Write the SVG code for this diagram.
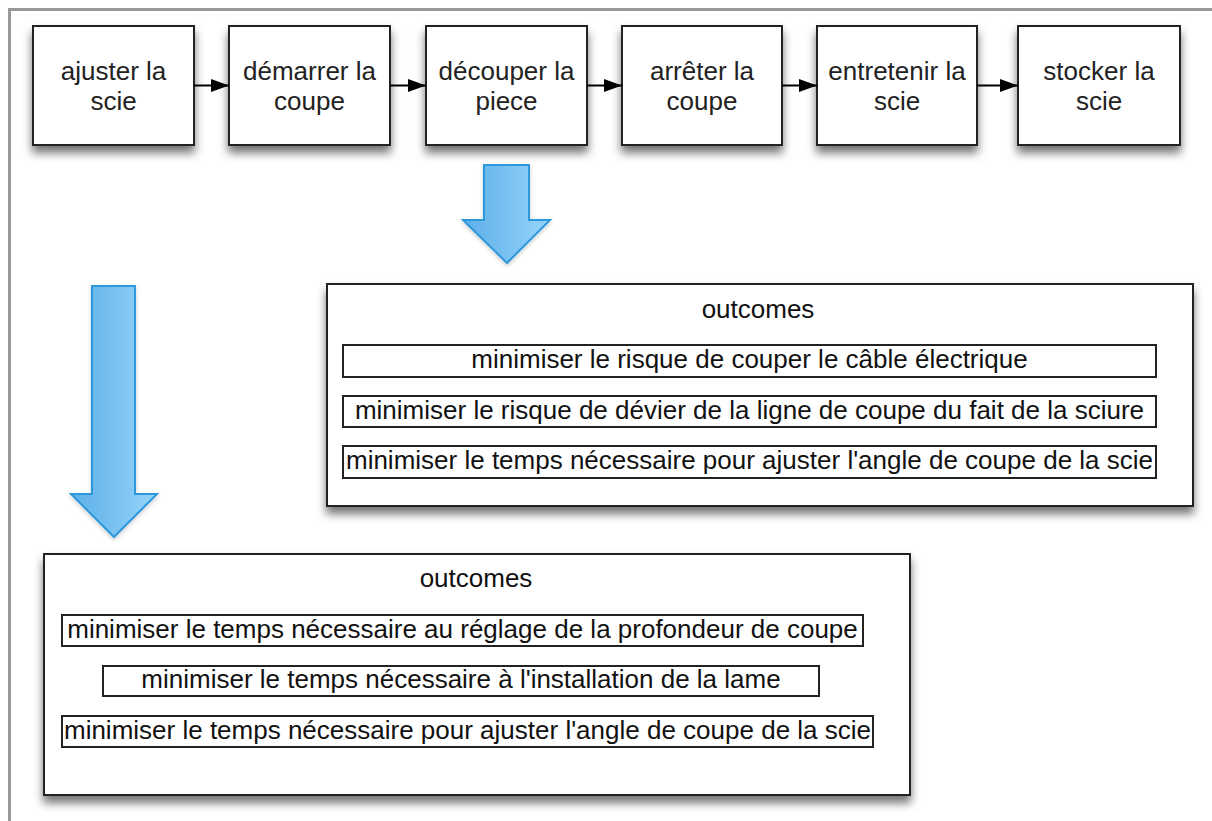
<svg xmlns="http://www.w3.org/2000/svg" width="1212" height="821" viewBox="0 0 1212 821">
<defs>
<filter id="sh" x="-10%" y="-10%" width="130%" height="140%">
<feDropShadow dx="0" dy="7" stdDeviation="5" flood-color="#000" flood-opacity="0.55"/>
</filter>
<filter id="sh2" x="-20%" y="-20%" width="140%" height="140%">
<feDropShadow dx="0" dy="2" stdDeviation="2" flood-color="#000" flood-opacity="0.2"/>
</filter>
<linearGradient id="blue" x1="0" y1="0" x2="1" y2="0">
<stop offset="0" stop-color="#5cafe9"/>
<stop offset="1" stop-color="#96d4fa"/>
</linearGradient>
<marker id="ah" viewBox="0 0 18 13" refX="18" refY="6.5" markerWidth="18" markerHeight="13" markerUnits="userSpaceOnUse" orient="auto">
<path d="M0,0 L18,6.5 L0,13 Z" fill="#000"/>
</marker>
<style>
.box{fill:#fff;stroke:#222;stroke-width:2;filter:url(#sh)}
.row{fill:#fff;stroke:#222;stroke-width:2}
.t{font-family:"Liberation Sans",Arial,sans-serif;font-size:26px;fill:#222;text-anchor:middle}
.o{font-family:"Liberation Sans",Arial,sans-serif;font-size:26px;fill:#111;text-anchor:middle}
.con{stroke:#000;stroke-width:2;fill:none;marker-end:url(#ah)}
.barrow{fill:url(#blue);stroke:#2f98dc;stroke-width:2;stroke-linejoin:miter;filter:url(#sh2)}
</style>
</defs>
<rect width="1212" height="821" fill="#fff"/>
<path d="M9.5,821 V9.5 H1212" fill="none" stroke="#999" stroke-width="3"/>

<g id="n1"><rect class="box" x="33" y="26" width="161" height="119"/><text class="t" x="113.5" y="80">ajuster la</text><text class="t" x="113.5" y="110">scie</text></g>
<g id="n2"><rect class="box" x="229" y="26" width="161" height="119"/><text class="t" x="309.5" y="80">démarrer la</text><text class="t" x="309.5" y="110">coupe</text></g>
<g id="n3"><rect class="box" x="426" y="26" width="161" height="119"/><text class="t" x="506.5" y="80">découper la</text><text class="t" x="506.5" y="110">piece</text></g>
<g id="n4"><rect class="box" x="622" y="26" width="160" height="119"/><text class="t" x="702" y="80">arrêter la</text><text class="t" x="702" y="110">coupe</text></g>
<g id="n5"><rect class="box" x="817" y="26" width="160" height="119"/><text class="t" x="897" y="80">entretenir la</text><text class="t" x="897" y="110">scie</text></g>
<g id="n6"><rect class="box" x="1018" y="26" width="162" height="119"/><text class="t" x="1099" y="80">stocker la</text><text class="t" x="1099" y="110">scie</text></g>

<g id="connectors">
<line class="con" x1="194" y1="85.5" x2="229" y2="85.5"/>
<line class="con" x1="390" y1="85.5" x2="426" y2="85.5"/>
<line class="con" x1="587" y1="85.5" x2="622" y2="85.5"/>
<line class="con" x1="782" y1="85.5" x2="817" y2="85.5"/>
<line class="con" x1="977" y1="85.5" x2="1018" y2="85.5"/>
</g>

<g id="arrow-top"><path class="barrow" d="M484,165 H529 V220 H550 L507,263 L463,220 H484 Z"/></g>
<g id="arrow-left"><path class="barrow" d="M92,286 H135 V494 H157 L114,537 L71,494 H92 Z"/></g>

<g id="outcomes1">
<rect class="box" x="327" y="284" width="866" height="222"/>
<text class="o" x="758" y="318">outcomes</text>
<rect class="row" x="343" y="345" width="813" height="32"/>
<text class="o" x="749.5" y="368">minimiser le risque de couper le câble électrique</text>
<rect class="row" x="343" y="396" width="813" height="31"/>
<text class="o" x="749.5" y="419">minimiser le risque de dévier de la ligne de coupe du fait de la sciure</text>
<rect class="row" x="343" y="446" width="813" height="32"/>
<text class="o" x="749.5" y="469">minimiser le temps nécessaire pour ajuster l'angle de coupe de la scie</text>
</g>

<g id="outcomes2">
<rect class="box" x="44" y="554" width="866" height="241"/>
<text class="o" x="476" y="587">outcomes</text>
<rect class="row" x="62" y="615" width="801" height="31"/>
<text class="o" x="462.5" y="638">minimiser le temps nécessaire au réglage de la profondeur de coupe</text>
<rect class="row" x="103" y="666" width="716" height="30"/>
<text class="o" x="461" y="688">minimiser le temps nécessaire à l'installation de la lame</text>
<rect class="row" x="62" y="716" width="811" height="31"/>
<text class="o" x="467.5" y="739">minimiser le temps nécessaire pour ajuster l'angle de coupe de la scie</text>
</g>
</svg>
